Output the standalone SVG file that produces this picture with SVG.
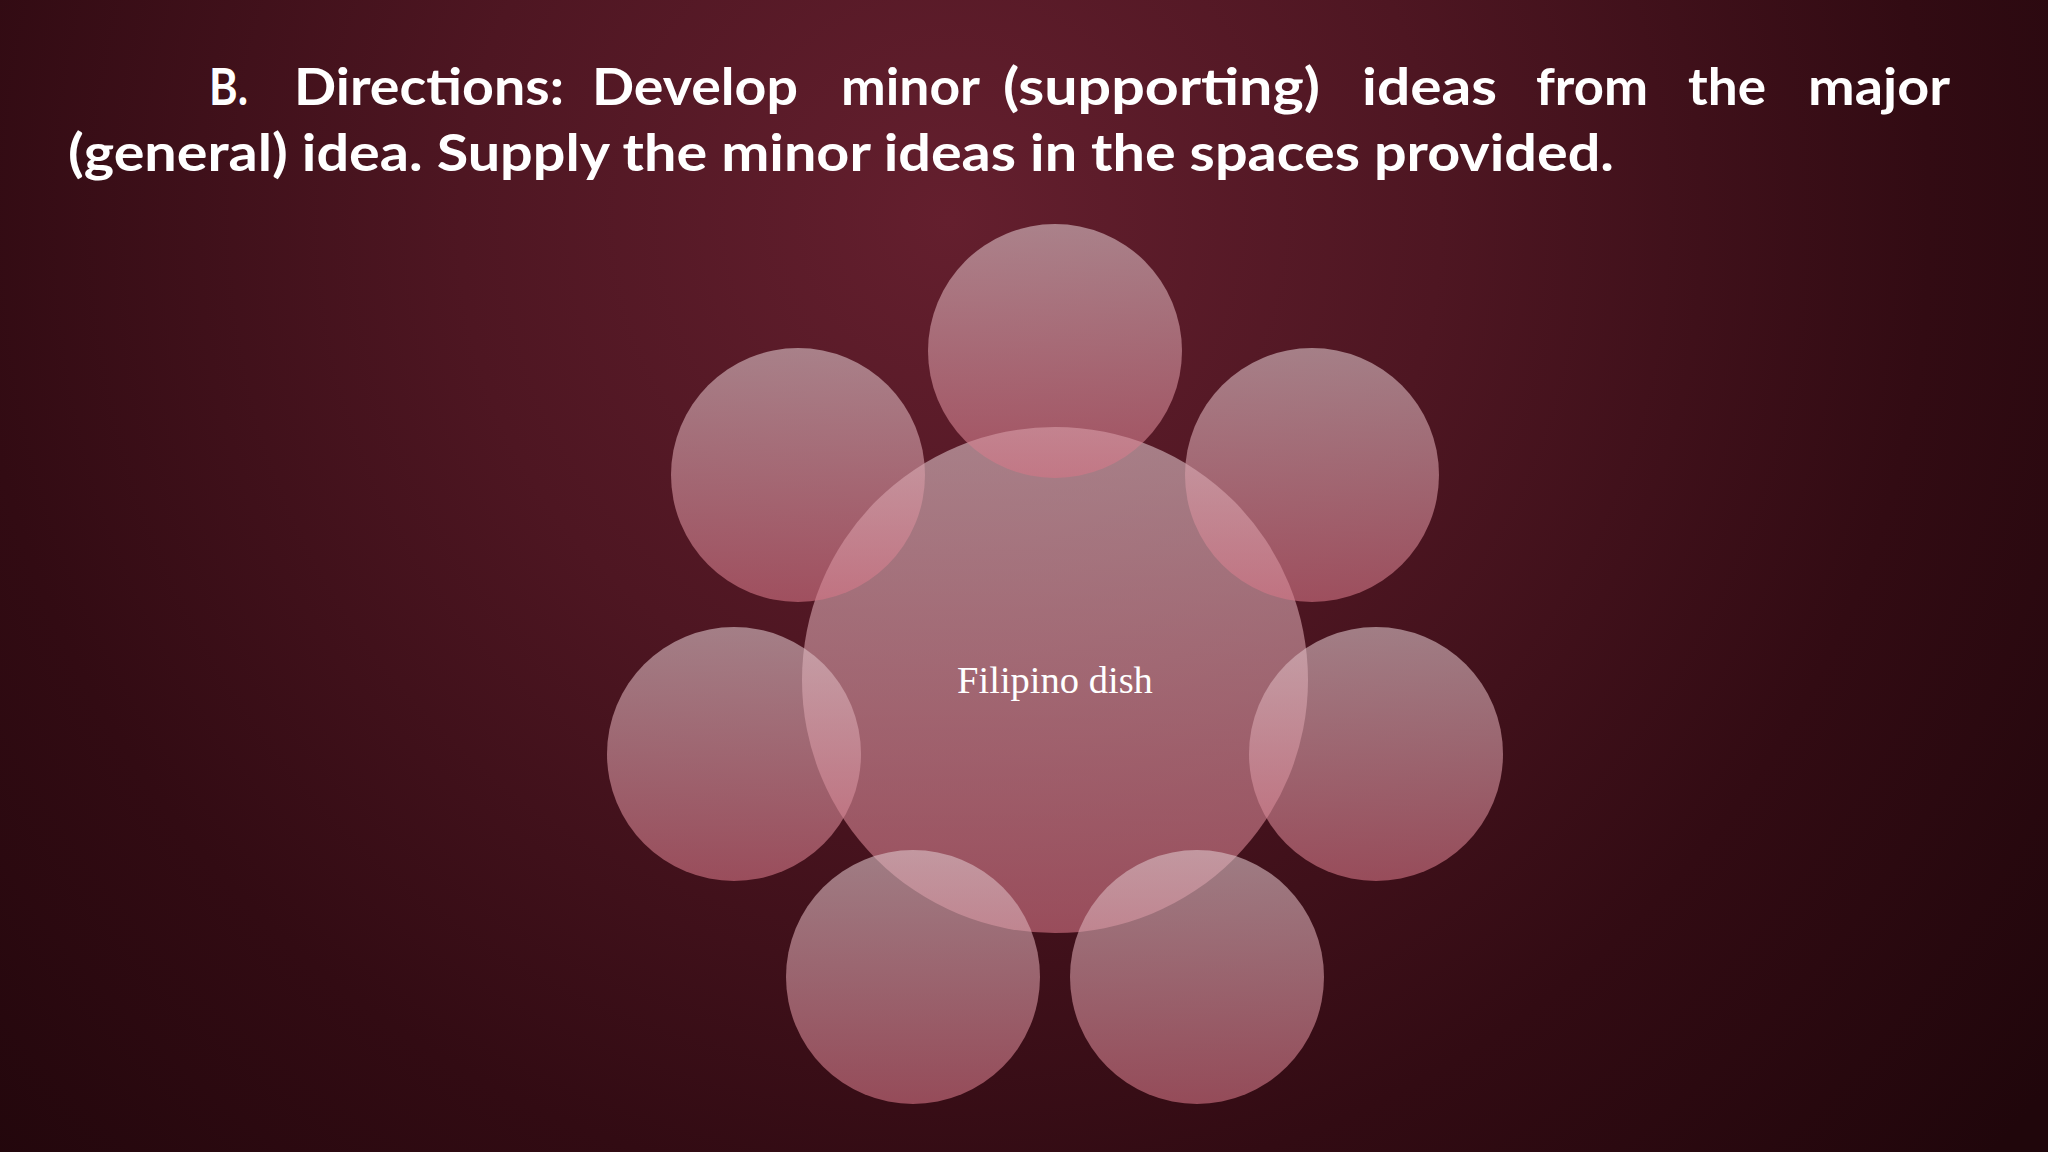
<svg xmlns="http://www.w3.org/2000/svg" width="2048" height="1152" viewBox="0 0 2048 1152">
  <defs>
    <radialGradient id="bg" cx="950" cy="220" r="1400" gradientUnits="userSpaceOnUse">
      <stop offset="0" stop-color="#641f2e"/>
      <stop offset="0.35" stop-color="#4e1622"/>
      <stop offset="0.7" stop-color="#320b13"/>
      <stop offset="1" stop-color="#20060b"/>
    </radialGradient>
    <linearGradient id="circ" x1="0" y1="0" x2="0" y2="1">
      <stop offset="0" stop-color="#dcc4c9"/>
      <stop offset="1" stop-color="#d47586"/>
    </linearGradient>
    <style>
      .node circle { fill: url(#circ); fill-opacity: 0.6; }
      .title { font-family: "Lato", "Liberation Sans", sans-serif; font-weight: bold; font-size: 52px; fill: #ffffff; }
      .label { font-family: "Liberation Serif", "Times New Roman", serif; font-size: 38.5px; fill: #ffffff; }
    </style>
  </defs>
  <rect width="2048" height="1152" fill="url(#bg)"/>

  <g id="title">
    <text class="title" x="209" y="105" textLength="39" lengthAdjust="spacingAndGlyphs">B.</text>
    <text class="title" x="294" y="105" textLength="270" lengthAdjust="spacingAndGlyphs">Directions:</text>
    <text class="title" x="592" y="105" textLength="206" lengthAdjust="spacingAndGlyphs">Develop</text>
    <text class="title" x="841" y="105" textLength="139" lengthAdjust="spacingAndGlyphs">minor</text>
    <text class="title" x="1003" y="105" textLength="317" lengthAdjust="spacingAndGlyphs">(supporting)</text>
    <text class="title" x="1362" y="105" textLength="135" lengthAdjust="spacingAndGlyphs">ideas</text>
    <text class="title" x="1536" y="105" textLength="112" lengthAdjust="spacingAndGlyphs">from</text>
    <text class="title" x="1688" y="105" textLength="78" lengthAdjust="spacingAndGlyphs">the</text>
    <text class="title" x="1808" y="105" textLength="142" lengthAdjust="spacingAndGlyphs">major</text>
    <text class="title" x="68" y="171" textLength="1546" lengthAdjust="spacingAndGlyphs">(general) idea. Supply the minor ideas in the spaces provided.</text>
  </g>

  <g id="connectors"></g>

  <g id="center" class="node"><circle cx="1055" cy="680" r="253"/></g>
  <g id="top" class="node"><circle cx="1055" cy="351" r="127"/></g>
  <g id="upper-left" class="node"><circle cx="798" cy="475" r="127"/></g>
  <g id="upper-right" class="node"><circle cx="1312" cy="475" r="127"/></g>
  <g id="left" class="node"><circle cx="734" cy="754" r="127"/></g>
  <g id="right" class="node"><circle cx="1376" cy="754" r="127"/></g>
  <g id="bottom-left" class="node"><circle cx="913" cy="977" r="127"/></g>
  <g id="bottom-right" class="node"><circle cx="1197" cy="977" r="127"/></g>

  <g id="center-label"><text class="label" x="1055" y="693" text-anchor="middle">Filipino dish</text></g>
</svg>
